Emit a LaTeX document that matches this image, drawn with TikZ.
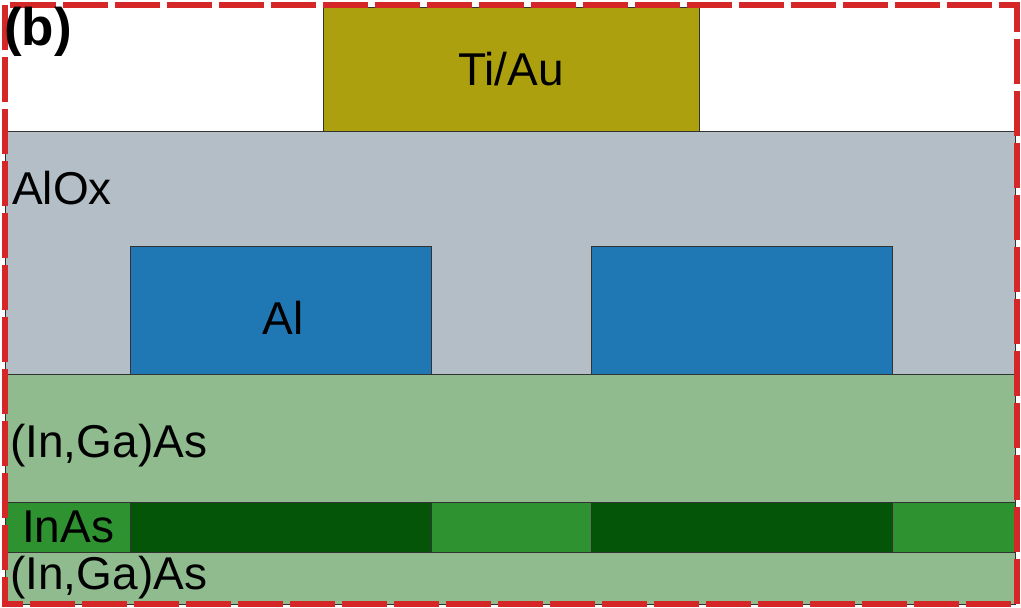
\documentclass[tikz,border=0pt]{standalone}
\usepackage{fontspec}
\setmainfont{Liberation Sans}
\definecolor{tiau}{RGB}{173,160,14}
\definecolor{alox}{RGB}{179,190,199}
\definecolor{alblue}{RGB}{31,119,180}
\definecolor{ingaas}{RGB}{143,187,143}
\definecolor{inaslight}{RGB}{46,146,49}
\definecolor{inasdark}{RGB}{4,85,8}
\definecolor{frame}{RGB}{214,39,40}
\tikzset{
  layer/.style={draw=black!80, line width=1pt},
  lbl/.style={inner sep=0pt, font=\fontsize{46}{54}\selectfont, text=black},
  tag/.style={inner sep=0pt, font=\fontsize{53}{60}\selectfont\bfseries, text=black},
  frameline/.style={draw=frame, line width=6pt, dash pattern=on 45pt off 7pt},
}
\begin{document}
\begin{tikzpicture}[x=1pt,y=-1pt]
\useasboundingbox (0,0) rectangle (1021,608);
\fill[white] (0,0) rectangle (1021,608);
% layers
\draw[layer, fill=alox] (5,131) rectangle (1015,374);
\draw[layer, fill=ingaas] (5,374) rectangle (1015,502);
\draw[layer, fill=inaslight] (5,502) rectangle (1015,552);
\draw[layer, fill=ingaas] (5,552) rectangle (1015,604);
% InAs dark regions
\draw[layer, fill=inasdark] (130,502) rectangle (431,552);
\draw[layer, fill=inasdark] (591,502) rectangle (892,552);
% Al contacts
\draw[layer, fill=alblue] (130,246) rectangle (431,374);
\draw[layer, fill=alblue] (591,246) rectangle (892,374);
% Ti/Au gate
\draw[layer, fill=tiau] (323,7.5) rectangle (699,131);
% dashed frame
\draw[frameline] (4.5,5) rectangle (1017,604);
% labels
\node[tag, anchor=west] (b) at (4,32) {(b)};
\node[lbl] (tiaulbl) at (511,69) {Ti/Au};
\node[lbl, anchor=west] (aloxlbl) at (12,188) {AlOx};
\node[lbl] (allbl) at (283,318) {Al};
\node[lbl, anchor=west] (ingaastop) at (10,446) {(In,Ga)As};
\node[lbl, anchor=west] (inaslbl) at (22,527) {InAs};
\node[lbl, anchor=west] (ingaasbot) at (10,578) {(In,Ga)As};
\end{tikzpicture}
\end{document}
